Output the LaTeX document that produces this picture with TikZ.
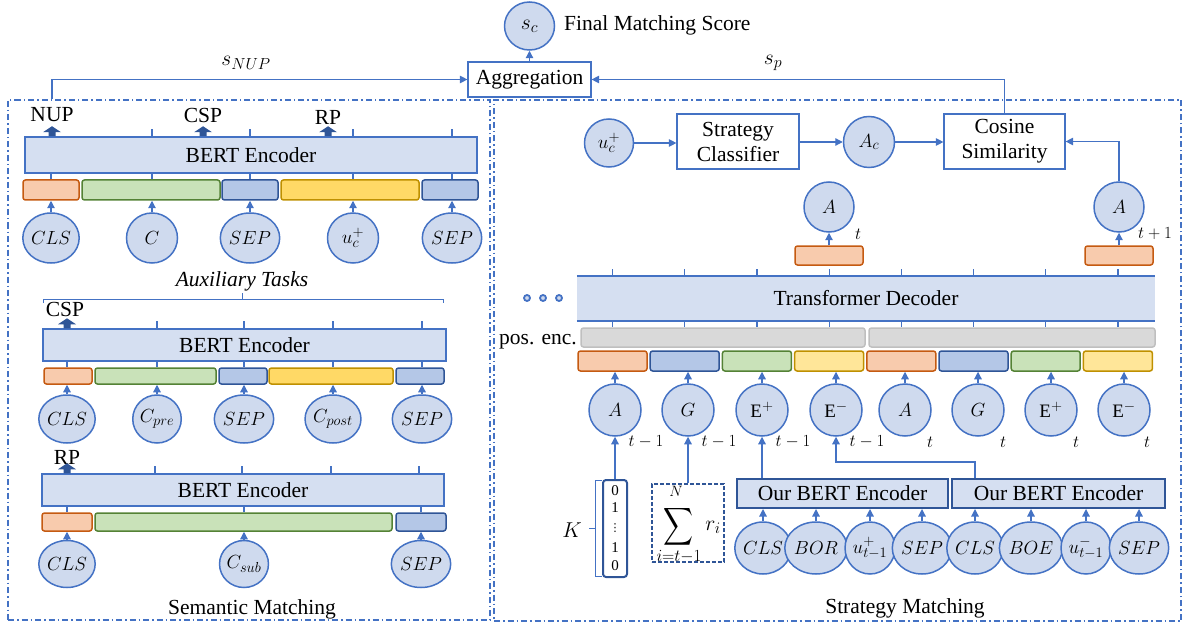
\documentclass[tikz,border=0pt]{standalone}
\usepackage{fix-cm}
\usepackage{fontspec}
\setmainfont{Liberation Serif}
\newfontfamily\dvsans{DejaVu Sans}
\usepackage{graphicx}
\usetikzlibrary{shapes.geometric,arrows.meta,calc}
\DeclareMathSizes{21.5}{21.5}{16}{12}
\DeclareMathSizes{19}{19}{14.5}{11}
\DeclareMathSizes{17}{17}{13}{10}
\DeclareMathSizes{15}{15}{11.5}{9}
\definecolor{myblue}{HTML}{4472C4}
\definecolor{dkblue}{HTML}{2F5597}
\definecolor{cfill}{HTML}{CFDAEE}
\definecolor{efill}{HTML}{D5DFF1}
\definecolor{orbf}{HTML}{F8CBAD}
\definecolor{orbd}{HTML}{C55A11}
\definecolor{grbf}{HTML}{C9E2B9}
\definecolor{grbd}{HTML}{548235}
\definecolor{blbf}{HTML}{B4C7E7}
\definecolor{blbd}{HTML}{2F5597}
\definecolor{yebf}{HTML}{FFD966}
\definecolor{yebf2}{HTML}{FFE699}
\definecolor{yebd}{HTML}{BF9000}
\definecolor{gybf}{HTML}{D9D9D9}
\definecolor{gybd}{HTML}{BFBFBF}
\newcommand\ftext{\fontsize{21.5}{25}\selectfont}
\newcommand\fmath{\fontsize{19}{22}\selectfont}
\newcommand\fsmall{\fontsize{17}{20}\selectfont}
\newcommand\ftiny{\fontsize{15}{17}\selectfont}
\newcommand\fdots{\fontsize{11}{12}\selectfont}
\newcommand\rectnode[7]{%
  \pgfmathsetmacro\rnw{#5-#3}%
  \pgfmathsetmacro\rnh{#6-#4}%
  \pgfmathsetmacro\rnx{(#3+#5)/2}%
  \pgfmathsetmacro\rny{(#4+#6)/2}%
  \node[#2, minimum width=\rnw pt, minimum height=\rnh pt] (#1) at (\rnx,\rny) {#7};}
\newcommand\barrow[1]{\fill[dkblue] (#1) ++(-3.5,0) -- ++(0,-4) -- ++(-5.5,0) -- ++(9,-6) -- ++(9,6) -- ++(-5.5,0) -- ++(0,4) -- cycle;}
\begin{document}
\begin{tikzpicture}[x=1pt,y=-1pt,
  tok/.style={ellipse, draw=myblue, fill=cfill, line width=1.5pt, inner sep=0pt, minimum width=50pt, minimum height=50pt, font=\fmath},
  enc/.style={rectangle, draw=myblue, fill=efill, line width=1.5pt, inner sep=0pt, font=\ftext},
  enctwo/.style={enc, draw=dkblue, line width=2pt},
  decs/.style={rectangle, fill=efill, inner sep=0pt, font=\ftext},
  plainbox/.style={rectangle, draw=myblue, fill=white, line width=1.2pt, inner sep=0pt, align=center, font=\ftext},
  barbase/.style={rectangle, rounded corners=2.5pt, line width=1.5pt, inner sep=0pt},
  orb/.style={barbase, draw=orbd, fill=orbf},
  grb/.style={barbase, draw=grbd, fill=grbf},
  blb/.style={barbase, draw=blbd, fill=blbf},
  yeb/.style={barbase, draw=yebd, fill=yebf},
  yebtwo/.style={barbase, draw=yebd, fill=yebf2},
  gyb/.style={barbase, draw=gybd, fill=gybf},
  kvs/.style={rectangle, rounded corners=3pt, draw=dkblue, line width=2pt, fill=white, inner sep=0pt},
  sumst/.style={rectangle, draw=dkblue, line width=1.2pt, dash pattern=on 4pt off 2pt, inner sep=0pt},
  arr/.style={draw=myblue, line width=1.2pt, -{Triangle[length=7.5pt,width=7.5pt]}},
  tick/.style={draw=myblue, line width=1.2pt},
  lbl/.style={inner sep=0pt, font=\ftext},
  frame/.style={rectangle, draw=myblue, line width=1.2pt, dash pattern=on 6pt off 3pt on 1.5pt off 3pt, inner sep=0pt}
]
\useasboundingbox (0,0) rectangle (1190,628);
% frames
\rectnode{frL}{frame}{8}{100}{490}{620}{}
\rectnode{frR}{frame}{494}{100}{1181}{621}{}
% top
\node[tok, minimum width=50pt, minimum height=48pt, font=\ftext] (score) at (529.5,26) {$s_c$};
\node[lbl, anchor=west] (fms) at (564,25) {Final Matching Score};
\rectnode{agg}{plainbox}{468}{62}{591}{97}{Aggregation}
\draw[arr] (agg.north) -- (score.south);
% ---------------- left panel: auxiliary tasks
\rectnode{encA}{enc}{25}{137}{477}{173}{BERT Encoder}
\rectnode{bA1}{orb}{23}{180}{79}{200}{}
\rectnode{bA2}{grb}{82}{180}{220}{200}{}
\rectnode{bA3}{blb}{222}{180}{278}{200}{}
\rectnode{bA4}{yeb}{281}{180}{419}{200}{}
\rectnode{bA5}{blb}{422}{180}{478}{200}{}
\foreach \i/\x/\lab in {1/51/{$CLS$},2/152/{$C$},3/250/{$SEP$},4/353/{$u_c^+$},5/452/{$SEP$}} {
  \node[tok, minimum width=51pt, minimum height=50pt] (tA\i) at (\x,238) {\lab};
  \draw[arr] (tA\i.north) -- (tA\i.north |- bA\i.south);
  \draw[tick] (encA.south -| tA\i) -- (bA\i.north -| tA\i);
}
\foreach \i in {2,...,5} \draw[tick] (encA.north -| tA\i) -- ++(0,-7);
\node[lbl] (lNUP) at (52,115) {NUP};
\node[lbl] (lCSP) at (203,115) {CSP};
\node[lbl] (lRP) at (328,117) {RP};
\path (encA.north -| lNUP) coordinate (baA1) (encA.north -| lCSP) coordinate (baA2) (encA.north -| lRP) coordinate (baA3);
\barrow{baA1}\barrow{baA2}\barrow{baA3}
\node[lbl, font=\ftext\itshape] (auxl) at (242,281) {Auxiliary Tasks};
\draw[myblue, line width=1pt] (43,303) -- (43,299) -- (443,299) -- (443,303);
\draw[myblue, line width=1pt] (auxl.south |- 0,299) -- ++(0,-6);
\draw[arr] (frL.north -| lNUP) |- (agg.west);
\node[lbl] (snup) at (246,63) {$s_{NUP}$};
% ---------------- left panel: CSP
\rectnode{encB}{enc}{43}{329}{446}{361}{BERT Encoder}
\rectnode{bB1}{orb}{44}{368}{92}{384}{}
\rectnode{bB2}{grb}{95}{368}{216}{384}{}
\rectnode{bB3}{blb}{219}{368}{267}{384}{}
\rectnode{bB4}{yeb}{269}{368}{393}{384}{}
\rectnode{bB5}{blb}{396}{368}{444}{384}{}
\foreach \i/\x/\lab in {1/67/{$CLS$},2/157/{$C_{pre}$},3/244/{$SEP$},4/333/{$C_{post}$},5/422/{$SEP$}} {
  \node[tok, minimum width=48pt, minimum height=48pt] (tB\i) at (\x,419) {\lab};
  \draw[arr] (tB\i.north) -- (tB\i.north |- bB\i.south);
  \draw[tick] (encB.south -| tB\i) -- (bB\i.north -| tB\i);
}
\foreach \i in {2,...,5} \draw[tick] (encB.north -| tB\i) -- ++(0,-7);
\node[lbl] (lCSPb) at (65,309) {CSP};
\path (encB.north -| tB1) coordinate (baB1);
\barrow{baB1}
% ---------------- left panel: semantic matching
\rectnode{encC}{enc}{42}{474}{444}{506}{BERT Encoder}
\rectnode{bC1}{orb}{42}{513}{92}{531}{}
\rectnode{bC2}{grb}{95}{513}{392}{531}{}
\rectnode{bC3}{blb}{396}{513}{446}{531}{}
\foreach \i/\x/\lab in {1/67/{$CLS$},2/244/{$C_{sub}$},3/421/{$SEP$}} {
  \node[tok, minimum width=47pt, minimum height=47pt] (tC\i) at (\x,564) {\lab};
  \draw[arr] (tC\i.north) -- (tC\i.north |- bC\i.south);
  \draw[tick] (encC.south -| tC\i) -- (bC\i.north -| tC\i);
}
\foreach \x in {155,242,331,419} \draw[tick] (encC.north -| \x,0) -- ++(0,-7);
\node[lbl] (lRPc) at (67,457) {RP};
\path (encC.north -| tC1) coordinate (baC1);
\barrow{baC1}
\node[lbl] (seml) at (252,609) {Semantic Matching};
% ---------------- right panel: top row
\node[tok, minimum width=49pt, minimum height=48pt] (uc) at (609,143) {$u_c^+$};
\rectnode{sc}{plainbox}{677}{114}{799}{169}{Strategy\\Classifier}
\node[tok, minimum width=51pt, minimum height=51pt] (Ac) at (869,142) {$A_c$};
\rectnode{cs}{plainbox}{944}{114}{1065}{169}{Cosine\\Similarity}
\draw[arr] (uc.east) -- (uc.east -| sc.west);
\draw[arr] (sc.east |- Ac) -- (Ac.west);
\draw[arr] (Ac.east) -- (Ac.east -| cs.west);
\draw[arr] (cs.north) |- (agg.east);
\node[lbl] (spl) at (773,63) {$s_p$};
% outputs A_t, A_{t+1}
\node[tok, minimum width=50pt, minimum height=50pt] (At) at (829,207) {$A$};
\node[tok, minimum width=50pt, minimum height=50pt] (Atn) at (1119,207) {$A$};
\rectnode{ob1}{orb}{795}{246}{863}{265}{}
\rectnode{ob2}{orb}{1085}{246}{1153}{265}{}
\draw[arr] (ob1.north -| At) -- (At.south);
\draw[arr] (ob2.north -| Atn) -- (Atn.south);
\draw[arr] (Atn.north) |- (cs.east);
\node[lbl, font=\fsmall] (ltA) at (858,234) {$t$};
\node[lbl, font=\fsmall] (ltAn) at (1155,234) {$t+1$};
% decoder
\rectnode{dec}{decs}{577}{276}{1155}{321}{Transformer Decoder}
\draw[myblue, line width=2pt] (dec.north west) -- (dec.north east);
\draw[myblue, line width=2pt] (dec.south west) -- (dec.south east);
\foreach \i/\x in {1/527,2/543,3/559} \node[circle, draw=myblue, fill=cfill, line width=1.8pt, minimum size=6pt, inner sep=0pt] (dot\i) at (\x,298) {};
\node[lbl] (pel) at (538,342) {pos. enc.};
\rectnode{pe1}{gyb}{581}{328}{865}{347}{}
\rectnode{pe2}{gyb}{869}{328}{1155}{347}{}
\foreach \i/\st in {1/orb,2/blb,3/grb,4/yebtwo,5/orb,6/blb,7/grb,8/yebtwo} {
  \pgfmathsetmacro\xa{578+72.2*(\i-1)}
  \pgfmathsetmacro\xb{\xa+69}
  \rectnode{cb\i}{\st}{\xa}{351}{\xb}{371}{}
  \draw[tick] (dec.north -| cb\i) -- ++(0,-7);
  \draw[tick] (dec.south -| cb\i) -- (pe1.north -| cb\i);
}
\foreach \i/\x/\lab/\sub/\dx in {1/615/{$A$}/{$t-1$}/31,2/688/{$G$}/{$t-1$}/31,3/762/{$\mathrm{E}^{+}$}/{$t-1$}/31,4/836/{$\mathrm{E}^{-}$}/{$t-1$}/31,5/905/{$A$}/{$t$}/25,6/978/{$G$}/{$t$}/25,7/1051/{$\mathrm{E}^{+}$}/{$t$}/25,8/1124/{$\mathrm{E}^{-}$}/{$t$}/23} {
  \node[tok, minimum width=52pt, minimum height=52pt] (dt\i) at (\x,410) {\lab};
  \draw[arr] (dt\i.north) -- (dt\i.north |- cb\i.south);
  \node[lbl, font=\fsmall] (st\i) at ({\x+\dx},442) {\sub};
}
% K vector
\rectnode{kvec}{kvs}{603}{480}{627}{577}{}
\node[lbl, font=\ftiny] (k1) at (615,491) {0};
\node[lbl, font=\ftiny] (k2) at (615,508) {1};
\node[lbl, font=\fdots\dvsans] (k3) at (615,528) {⋮};
\node[lbl, font=\ftiny] (k4) at (615,548) {1};
\node[lbl, font=\ftiny] (k5) at (615,566) {0};
\draw[myblue, line width=1pt] (602,480) -- (595,480) -- (595,576) -- (602,576);
\draw[myblue, line width=1pt] (595,528) -- (589,528);
\node[lbl, font=\ftext] (klab) at (572,530) {$K$};
\draw[arr] (kvec.north -| dt1) -- (dt1.south);
% sum box
\rectnode{sumbox}{sumst}{652}{484}{724}{562}{}
\node[lbl] (sig) at (678,527) {\resizebox*{30pt}{42pt}{$\displaystyle\sum$}};
\node[lbl, font=\ftiny] (sigN) at (676,491) {$N$};
\node[lbl, font=\fsmall] (sigi) at (679,557) {$i{=}t{-}1$};
\node[lbl, font=\ftext] (sigr) at (713,527) {$r_i$};
\draw[arr] (sumbox.north -| dt2) -- (dt2.south);
% our BERT encoders
\rectnode{oe1}{enctwo}{737}{479}{948}{508}{Our BERT Encoder}
\rectnode{oe2}{enctwo}{952}{479}{1165}{508}{Our BERT Encoder}
\foreach \i/\x/\lab in {1/763/{$CLS$},2/816/{$BOR$},3/870/{$u_{t-1}^{+}$},4/922/{$SEP$}} {
  \node[tok, minimum width=50pt, minimum height=52pt] (bt\i) at (\x,548) {\lab};
  \draw[arr] (bt\i.north) -- (bt\i.north |- oe1.south);
}
\foreach \i/\x/\lab in {5/975/{$CLS$},6/1031/{$BOE$},7/1086/{$u_{t-1}^{-}$},8/1139/{$SEP$}} {
  \node[tok, minimum width=50pt, minimum height=52pt] (bt\i) at (\x,548) {\lab};
  \draw[arr] (bt\i.north) -- (bt\i.north |- oe2.south);
}
\draw[arr] (oe1.north -| dt3) -- (dt3.south);
\draw[arr] (oe2.north -| bt5) -- ++(0,-16) -| (dt4.south);
\node[lbl] (strl) at (905,608) {Strategy Matching};
\end{tikzpicture}
\end{document}
